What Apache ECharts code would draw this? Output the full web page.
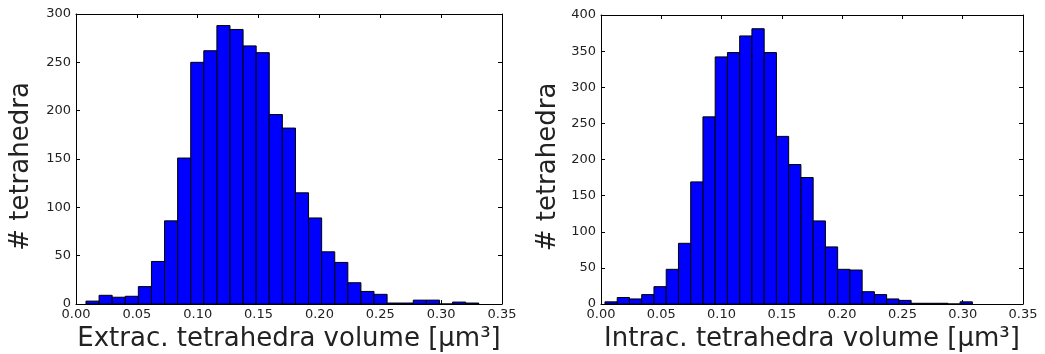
<!DOCTYPE html>
<html>
<head>
<meta charset="utf-8">
<script src="https://cdn.jsdelivr.net/npm/echarts@6/dist/echarts.min.js"></script>
<style>html,body{margin:0;padding:0;background:#fff;}#c{width:1045px;height:354px;}</style>
</head>
<body>
<div id="c"></div>
<script>
// Histogram counts (30 bins each)
const extracCounts = [3,9,7,8,18,44,86,151,250,262,288,284,267,260,196,182,115,89,54,43,22,13,10,1,1,4,4,0,2,1];
const intracCounts = [3,9,7,13,24,48,84,169,259,342,348,371,381,348,232,193,175,115,79,48,47,17,13,7,5,1,1,1,0,3];
// Histogram data range (first bin start, last bin end)
const extracRange = [0.0082, 0.3309];
const intracRange = [0.0033, 0.3080];
// Axis ticks
const xTicks = [0.00,0.05,0.10,0.15,0.20,0.25,0.30,0.35];
const extracYTicks = [0,50,100,150,200,250,300];
const intracYTicks = [0,50,100,150,200,250,300,350,400];
const extracXTitle = 'Extrac. tetrahedra volume [µm³]';
const intracXTitle = 'Intrac. tetrahedra volume [µm³]';
const yTitle = '# tetrahedra';

function bins(counts, range) {
  const n = counts.length, w = (range[1] - range[0]) / n;
  return counts.map((c, i) => [range[0] + i * w, range[0] + (i + 1) * w, c]);
}

const FONT = 'DejaVu Sans';
const TXT = '#222';

function renderItem(params, api) {
  const p0 = api.coord([api.value(0), api.value(2)]);
  const p1 = api.coord([api.value(1), 0]);
  return {
    type: 'rect',
    shape: {x: p0[0], y: p0[1], width: p1[0] - p0[0], height: p1[1] - p0[1]},
    style: {fill: '#0000ff', stroke: '#000', lineWidth: 1}
  };
}

function xAxes(grid, title) {
  const base = {
    type: 'value', gridIndex: grid, min: xTicks[0], max: xTicks[xTicks.length - 1], interval: 0.05,
    splitLine: {show: false},
    axisLine: {show: true, onZero: false, lineStyle: {color: '#000', width: 1}},
    axisTick: {show: true, inside: true, length: 4, lineStyle: {color: '#000'}}
  };
  return [
    Object.assign({}, base, {
      position: 'bottom',
      axisLabel: {show: true, color: TXT, fontFamily: FONT, fontSize: 13, margin: 4, formatter: v => v.toFixed(2)},
      name: title, nameLocation: 'middle', nameGap: 20,
      nameTextStyle: {color: TXT, fontFamily: FONT, fontSize: 26}
    }),
    Object.assign({}, base, {position: 'top', axisLabel: {show: false}})
  ];
}

function yAxes(grid, ticks, gap) {
  const base = {
    type: 'value', gridIndex: grid, min: 0, max: ticks[ticks.length - 1], interval: 50,
    splitLine: {show: false},
    axisLine: {show: true, onZero: false, lineStyle: {color: '#000', width: 1}},
    axisTick: {show: true, inside: true, length: 4, lineStyle: {color: '#000'}}
  };
  return [
    Object.assign({}, base, {
      position: 'left',
      axisLabel: {show: true, color: TXT, fontFamily: FONT, fontSize: 13, margin: 5},
      name: yTitle, nameLocation: 'middle', nameGap: gap, nameRotate: 90,
      nameTextStyle: {color: TXT, fontFamily: FONT, fontSize: 26, padding: [0, 15, 0, 0]}
    }),
    Object.assign({}, base, {position: 'right', axisLabel: {show: false}})
  ];
}

const chart = echarts.init(document.getElementById('c'), null, {renderer: 'canvas'});
chart.setOption({
  animation: false,
  backgroundColor: '#fff',
  grid: [
    {left: 76, right: 543, top: 14, bottom: 50, outerBoundsMode: 'none', containLabel: false},
    {left: 601, right: 22, top: 15, bottom: 50, outerBoundsMode: 'none', containLabel: false}
  ],
  xAxis: [].concat(xAxes(0, extracXTitle), xAxes(1, intracXTitle)),
  yAxis: [].concat(yAxes(0, extracYTicks, 42), yAxes(1, intracYTicks, 40)),
  series: [
    {type: 'custom', xAxisIndex: 0, yAxisIndex: 0, renderItem: renderItem,
     encode: {x: [0, 1], y: 2}, data: bins(extracCounts, extracRange)},
    {type: 'custom', xAxisIndex: 2, yAxisIndex: 2, renderItem: renderItem,
     encode: {x: [0, 1], y: 2}, data: bins(intracCounts, intracRange)}
  ]
});
</script>
</body>
</html>
